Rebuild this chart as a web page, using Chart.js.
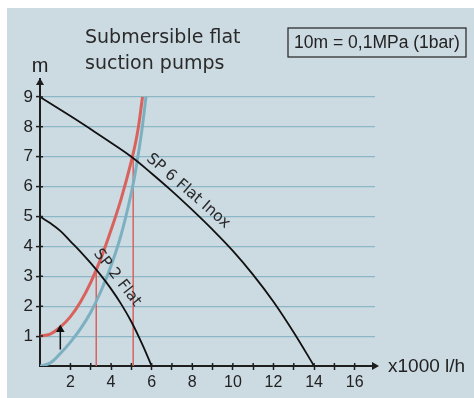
<!DOCTYPE html>
<html>
<head>
<meta charset="utf-8">
<script src="https://cdn.jsdelivr.net/npm/chart.js@4"></script>
<style>
  html, body { margin: 0; padding: 0; background: #ffffff; }
  #wrap { width: 474px; height: 398px; }
</style>
</head>
<body>
<div id="wrap"><canvas id="chart" width="474" height="398"></canvas></div>
<script>
// pump curves (flow x1000 l/h, head m)
var sp6Flow = [0.5, 2, 3, 4, 5, 6, 7, 8, 9, 10, 11, 12, 13, 14];
var sp6Head = [9, 8.36, 7.92, 7.47, 7.0, 6.44, 5.85, 5.22, 4.56, 3.85, 3.05, 2.15, 1.12, 0];

var sp2Flow = [0.5, 1, 1.5, 2, 2.5, 3, 3.5, 4, 4.5, 5, 5.5, 6];
var sp2Head = [5, 4.78, 4.52, 4.17, 3.82, 3.44, 3.03, 2.58, 2.07, 1.48, 0.78, 0];

// system curves
var redFlow = [0.5, 1, 1.5, 2, 2.5, 3, 3.5, 4, 4.5, 5, 5.3, 5.55];
var redHead = [1.0, 1.07, 1.3, 1.65, 2.15, 2.8, 3.6, 4.55, 5.6, 6.85, 7.8, 9.0];

var blueFlow = [0.5, 1, 1.5, 2, 2.5, 3, 3.5, 4, 4.5, 5, 5.25, 5.5, 5.72];
var blueHead = [0, 0.1, 0.42, 0.8, 1.25, 1.8, 2.5, 3.35, 4.4, 5.8, 6.7, 7.8, 9.0];

// operating points (vertical red lines)
var opFlow = [3.27, 5.09];
var opHead = [3.2, 7.1];

var arrowFlow = [1.5, 1.5];
var arrowHead = [0.55, 1.22];

var xTicks = [2, 3, 4, 5, 6, 7, 8, 9, 10, 11, 12, 13, 14, 15, 16];
var yTicks = [1, 2, 3, 4, 5, 6, 7, 8, 9];

var curveLabels = [
    { text: "SP 6 Flat Inox", x: 7.8, y: 5.85, angle: 41 },
    { text: "SP 2 Flat", x: 4.3, y: 2.95, angle: 52 }
];

function pts(xs, ys) {
    var out = [];
    for (let i = 0; i < xs.length; i++) {
        out.push({ x: xs[i], y: ys[i] });
    }
    return out;
}

var extras = {
    id: 'extras',
    beforeDraw: function(chart) {
        const ctx = chart.ctx;
        ctx.save();
        ctx.fillStyle = '#ccdae2';
        ctx.fillRect(7, 8, 467, 390);
        ctx.restore();
    },
    afterDraw: function(chart) {
        const ctx = chart.ctx;
        const area = chart.chartArea;
        const xs = chart.scales.x;
        const ys = chart.scales.y;
        ctx.save();
        ctx.fillStyle = '#1e1e1e';
        ctx.strokeStyle = '#1e1e1e';
        ctx.lineWidth = 1.5;
        // tick marks inside the axes
        ctx.beginPath();
        xTicks.forEach(function(v) {
            var px = xs.getPixelForValue(v);
            ctx.moveTo(px, area.bottom);
            ctx.lineTo(px, area.bottom - 3);
        });
        yTicks.forEach(function(v) {
            var py = ys.getPixelForValue(v);
            ctx.moveTo(area.left, py);
            ctx.lineTo(area.left + 3, py);
        });
        ctx.stroke();
        // arrow heads
        ctx.beginPath();
        ctx.moveTo(area.right + 4, area.bottom);
        ctx.lineTo(area.right - 3, area.bottom - 4);
        ctx.lineTo(area.right - 3, area.bottom + 4);
        ctx.closePath();
        ctx.fill();
        ctx.beginPath();
        ctx.moveTo(area.left, area.top - 1);
        ctx.lineTo(area.left - 4, area.top + 6);
        ctx.lineTo(area.left + 4, area.top + 6);
        ctx.closePath();
        ctx.fill();

        // axis names
        ctx.fillStyle = '#222';
        ctx.textBaseline = 'alphabetic';
        ctx.font = '19px "Liberation Sans", Arial, sans-serif';
        ctx.textAlign = 'left';
        ctx.fillText('x1000 l/h', 388, 371.5);
        ctx.font = '20px "Liberation Sans", Arial, sans-serif';
        ctx.textAlign = 'center';
        ctx.fillText('m', area.left, 72);

        // title
        ctx.fillStyle = '#2a2a2a';
        ctx.font = '19px "DejaVu Sans", sans-serif';
        ctx.textAlign = 'left';
        ctx.fillText('Submersible flat', 85, 42.5);
        ctx.fillText('suction pumps', 85, 68.5);

        // unit box
        ctx.fillStyle = '#222';
        ctx.lineWidth = 1.2;
        ctx.strokeStyle = '#222';
        ctx.strokeRect(288, 28, 178, 29);
        ctx.font = '17.5px "Liberation Sans", Arial, sans-serif';
        ctx.textAlign = 'center';
        ctx.textBaseline = 'middle';
        ctx.fillText('10m = 0,1MPa (1bar)', 377, 43);

        // curve names
        ctx.fillStyle = '#2a2a2a';
        ctx.font = '15.5px "DejaVu Sans", sans-serif';
        curveLabels.forEach(function(l) {
            ctx.save();
            ctx.translate(xs.getPixelForValue(l.x), ys.getPixelForValue(l.y));
            ctx.rotate(l.angle * Math.PI / 180);
            ctx.fillText(l.text, 0, 0);
            ctx.restore();
        });
        ctx.restore();
    }
};

var black = '#111111';
var red = '#d9625d';
var blue = '#7cb0c1';

var ctx = document.getElementById('chart').getContext('2d');
var myChart = new Chart(ctx, {
    type: 'line',
    data: {
        datasets: [{
            data: pts(sp6Flow, sp6Head),
            borderColor: black,
            borderWidth: 1.8,
            tension: 0.4,
            pointRadius: 0,
        }, {
            data: pts(sp2Flow, sp2Head),
            borderColor: black,
            borderWidth: 1.8,
            tension: 0.4,
            pointRadius: 0,
        }, {
            data: pts(arrowFlow, arrowHead),
            borderColor: black,
            backgroundColor: black,
            borderWidth: 1.5,
            pointStyle: 'triangle',
            pointRadius: [0, 3.5],
        }, {
            data: pts(redFlow, redHead),
            borderColor: red,
            borderWidth: 3,
            tension: 0.4,
            pointRadius: 0,
        }, {
            data: pts(blueFlow, blueHead),
            borderColor: blue,
            borderWidth: 3,
            tension: 0.4,
            pointRadius: 0,
        }, {
            data: [{ x: opFlow[0], y: 0 }, { x: opFlow[0], y: opHead[0] }],
            borderColor: red,
            borderWidth: 1.5,
            pointRadius: 0,
        }, {
            data: [{ x: opFlow[1], y: 0 }, { x: opFlow[1], y: opHead[1] }],
            borderColor: red,
            borderWidth: 1.5,
            pointRadius: 0,
        }],
    },
    options: {
        responsive: false,
        animation: false,
        layout: {
            padding: { top: 79, right: 99, left: 0, bottom: 0 }
        },
        plugins: {
            legend: { display: false },
            tooltip: { enabled: false },
        },
        scales: {
            x: {
                type: 'linear',
                min: 0.5,
                max: 17,
                afterFit: function(s) { s.height = 32; },
                afterBuildTicks: function(s) {
                    s.ticks = xTicks.map(function(v) { return { value: v }; });
                },
                ticks: {
                    autoSkip: false,
                    maxRotation: 0,
                    padding: 3,
                    color: '#222',
                    font: { family: '"Liberation Sans", Arial, sans-serif', size: 16 },
                    callback: function(v) { return v % 2 === 0 ? v : ''; },
                },
                grid: {
                    drawOnChartArea: false,
                    tickLength: 4,
                    tickColor: '#1e1e1e',
                    tickWidth: 1.5,
                },
                border: { color: '#1e1e1e', width: 2 },
            },
            y: {
                type: 'linear',
                min: 0,
                max: 9.6,
                afterFit: function(s) { s.width = 40; },
                afterBuildTicks: function(s) {
                    s.ticks = yTicks.map(function(v) { return { value: v }; });
                },
                ticks: {
                    padding: 3,
                    color: '#222',
                    font: { family: '"Liberation Sans", Arial, sans-serif', size: 17 },
                },
                grid: {
                    color: '#8cb7c5',
                    lineWidth: 1.2,
                    tickLength: 4,
                    tickColor: '#1e1e1e',
                    tickWidth: 1.5,
                },
                border: { color: '#1e1e1e', width: 2 },
            },
        },
    },
    plugins: [extras],
});
</script>
</body>
</html>
